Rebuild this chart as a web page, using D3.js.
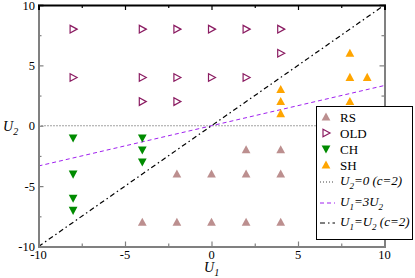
<!DOCTYPE html>
<html>
<head>
<meta charset="utf-8">
<script src="https://cdn.jsdelivr.net/npm/d3@7"></script>
<style>
  body { margin: 0; background: #fff; }
  text { font-family: "Liberation Serif", "DejaVu Serif", serif; }
</style>
</head>
<body>
<script>
// phase diagram points
var rsX  = [-2, 0, 2, 4, 2, 4, -4, -2, 0, 2, 4];
var rsY  = [-4, -4, -4, -4, -2, -2, -8, -8, -8, -8, -8];
var oldX = [-8, -4, -2, 0, 2, 4, -8, -4, -2, 0, 2, 4, -4, -2];
var oldY = [8, 8, 8, 8, 8, 8, 4, 4, 4, 4, 4, 6, 2, 2];
var chX  = [-8, -8, -8, -8, -4, -4, -4];
var chY  = [-1, -4, -6, -7, -1, -2, -3];
var shX  = [8, 8, 9, 4, 4, 4, 8];
var shY  = [6, 4, 4, 3, 2, 1, 2];
var majorTicks = [-10, -5, 0, 5, 10];
var minorTicks = [-7.5, -2.5, 2.5, 7.5];

var w = 415, h = 278;
var x = d3.scaleLinear().domain([-10, 10]).range([38.5, 384.5]);
var y = d3.scaleLinear().domain([-10, 10]).range([246.5, 5]);
var grey = "#808080";

var svg = d3.select("body").append("svg")
    .attr("width", w).attr("height", h);

/* reference lines */
var xs = [-10, 10];
var line = d3.line().x(function(d) { return x(d[0]); }).y(function(d) { return y(d[1]); });
svg.append("path").attr("d", line(xs.map(function(v) { return [v, 0]; })))
    .attr("stroke", "#444").attr("stroke-width", 1).attr("stroke-dasharray", "1,2").attr("fill", "none");
svg.append("path").attr("d", line(xs.map(function(v) { return [v, v / 3]; })))
    .attr("stroke", "#a020f0").attr("stroke-width", 1).attr("stroke-dasharray", "4,3").attr("fill", "none");
svg.append("path").attr("d", line(xs.map(function(v) { return [v, v]; })))
    .attr("stroke", "#000").attr("stroke-width", 1.2).attr("stroke-dasharray", "5,3,1.5,3").attr("fill", "none");

/* frame and ticks */
function tickAxis(axis, pos, color, transform) {
  var g = svg.append("g").attr("transform", transform);
  g.call(axis.tickValues(majorTicks).tickSize(-5).tickFormat(""));
  g.select(".domain").attr("stroke", color).attr("stroke-width", 2);
  g.selectAll(".tick line").attr("stroke", color).attr("stroke-width", 1.2);
  var g2 = svg.append("g").attr("transform", transform);
  g2.call(axis.tickValues(minorTicks).tickSize(-3).tickFormat(""));
  g2.select(".domain").remove();
  g2.selectAll(".tick line").attr("stroke", color).attr("stroke-width", 1.2);
}
tickAxis(d3.axisBottom(x).tickSizeOuter(0), 0, grey, "translate(0," + y(-10) + ")");
tickAxis(d3.axisLeft(y).tickSizeOuter(0), 0, grey, "translate(" + x(-10) + ",0)");
tickAxis(d3.axisRight(y).tickSizeOuter(0), 0, grey, "translate(" + x(10) + ",0)");
tickAxis(d3.axisTop(x).tickSizeOuter(0), 0, "#000", "translate(0," + y(10) + ")");

/* tick labels */
svg.selectAll(".xl").data(majorTicks).enter().append("text")
    .attr("x", function(d) { return x(d); }).attr("y", 259)
    .attr("text-anchor", "middle").attr("font-size", 12.5)
    .text(function(d) { return d; });
svg.selectAll(".yl").data(majorTicks).enter().append("text")
    .attr("x", 35).attr("y", function(d) { return y(d) + 4.5; })
    .attr("text-anchor", "end").attr("font-size", 12.5)
    .text(function(d) { return d; });

/* axis titles */
function uLabel(g, xx, yy, sub) {
  var t = g.append("text").attr("x", xx).attr("y", yy)
      .attr("font-size", 14).attr("font-style", "italic");
  t.append("tspan").text("U");
  t.append("tspan").attr("font-size", 10).attr("dy", 4).text(sub);
}
uLabel(svg, 204, 272, "1");
uLabel(svg, 3, 131, "2");

/* markers */
function tri(size, dir) {
  var r = size;
  if (dir === "up") return "M0," + (-r) + "L" + (r * 0.95) + "," + (r * 0.75) + "L" + (-r * 0.95) + "," + (r * 0.75) + "Z";
  if (dir === "down") return "M0," + r + "L" + (r * 0.95) + "," + (-r * 0.75) + "L" + (-r * 0.95) + "," + (-r * 0.75) + "Z";
  return "M" + r + ",0L" + (-r * 0.75) + "," + (-r * 0.95) + "L" + (-r * 0.75) + "," + (r * 0.95) + "Z";
}
function plot(xv, yv, d, fill, stroke) {
  svg.append("g").selectAll("path").data(xv).enter().append("path")
      .attr("transform", function(v, i) { return "translate(" + x(v) + "," + y(yv[i]) + ")"; })
      .attr("d", d).attr("fill", fill).attr("stroke", stroke).attr("stroke-width", 1.2);
}
plot(rsX, rsY, tri(4.6, "up"), "#bc8f8f", "none");
plot(oldX, oldY, tri(4, "right"), "none", "#8b1c62");
plot(chX, chY, tri(4.6, "down"), "#008b00", "none");
plot(shX, shY, tri(4.6, "up"), "#ffa500", "none");

/* legend */
var lg = svg.append("g");
lg.append("rect").attr("x", 316.5).attr("y", 106.5).attr("width", 96).attr("height", 133)
    .attr("fill", "#fff").attr("stroke", "#000").attr("stroke-width", 1);
var symRows = [
  { name: "RS", d: tri(4.6, "up"), fill: "#bc8f8f", stroke: "none", yy: 117 },
  { name: "OLD", d: tri(4, "right"), fill: "none", stroke: "#8b1c62", yy: 133 },
  { name: "CH", d: tri(4.6, "down"), fill: "#008b00", stroke: "none", yy: 149 },
  { name: "SH", d: tri(4.6, "up"), fill: "#ffa500", stroke: "none", yy: 165 }
];
symRows.forEach(function(r) {
  lg.append("path").attr("transform", "translate(326," + r.yy + ")")
      .attr("d", r.d).attr("fill", r.fill).attr("stroke", r.stroke).attr("stroke-width", 1.2);
  lg.append("text").attr("x", 340).attr("y", r.yy + 4.5).attr("font-size", 13).text(r.name);
});
var lineRows = [
  { dash: "1,2", color: "#444", yy: 182, parts: [["U", ""], ["2", "s"], ["=0 (c=2)", ""]] },
  { dash: "4,3", color: "#a020f0", yy: 203, parts: [["U", ""], ["1", "s"], ["=3U", ""], ["2", "s"]] },
  { dash: "5,3,1.5,3", color: "#000", yy: 223, parts: [["U", ""], ["1", "s"], ["=U", ""], ["2", "s"], [" (c=2)", ""]] }
];
lineRows.forEach(function(r) {
  lg.append("line").attr("x1", 320).attr("x2", 335).attr("y1", r.yy).attr("y2", r.yy)
      .attr("stroke", r.color).attr("stroke-width", 1).attr("stroke-dasharray", r.dash);
  var t = lg.append("text").attr("x", 340).attr("y", r.yy + 3).attr("font-size", 13).attr("font-style", "italic");
  var low = false;
  r.parts.forEach(function(p) {
    var s = t.append("tspan").text(p[0]);
    if (p[1] === "s") { s.attr("font-size", 9).attr("dy", 4); low = true; }
    else if (low) { s.attr("dy", -4); low = false; }
  });
});
</script>
</body>
</html>
